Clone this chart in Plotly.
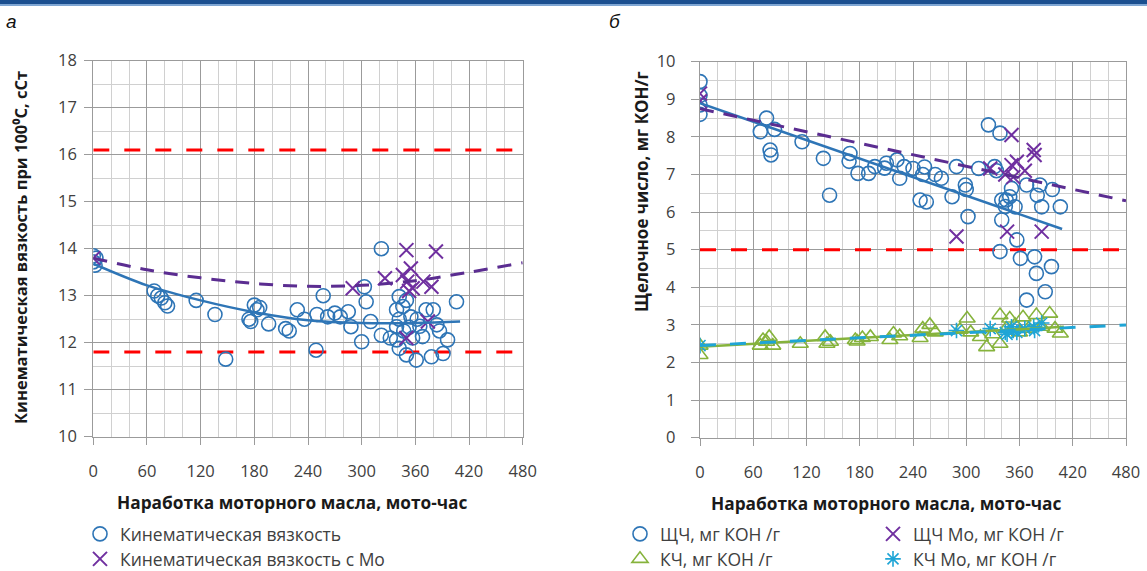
import plotly.graph_objects as go

W, H = 1147, 571

# ---------------- Data: chart (а) kinematic viscosity ----------------
kv_x = [0, 0, 2, 3, 68, 72, 76, 80, 83, 115, 136, 148, 174, 176, 180, 183, 186,
        196, 215, 219, 228, 236, 249, 250, 257, 262, 270, 276, 285, 288, 300, 303,
        305, 310, 322, 322, 332, 339, 339, 339, 342, 342, 342, 346, 347, 350, 350,
        353, 355, 357, 361, 362, 365, 368, 372, 378, 380, 384, 387, 391, 396, 406]
kv_y = [13.85, 13.72, 13.65, 13.8, 13.1, 13.0, 12.95, 12.85, 12.78, 12.9, 12.6, 11.65,
        12.5, 12.45, 12.8, 12.7, 12.75, 12.4, 12.3, 12.25, 12.7, 12.5, 11.84, 12.6, 13.0,
        12.55, 12.63, 12.55, 12.66, 12.34, 12.02, 13.19, 12.87, 12.45, 14.0, 12.16, 12.1,
        12.7, 12.34, 12.06, 12.98, 12.5, 11.88, 12.77, 12.25, 12.9, 11.74, 12.33, 12.55,
        12.1, 11.63, 12.5, 12.35, 12.13, 12.7, 11.7, 12.7, 12.38, 12.25, 11.77, 12.06, 12.87]

kvmo_x = [0, 290, 326, 346, 350, 350, 351, 353, 355, 357, 369, 374, 378, 383]
kvmo_y = [13.8, 13.16, 13.37, 13.44, 13.97, 12.1, 13.3, 13.1, 13.58, 13.16, 13.3, 12.45, 13.19, 13.94]

kv_trend_x = [0, 60, 120, 180, 240, 300, 360, 410]
kv_trend_y = [13.68, 13.22, 12.9, 12.65, 12.48, 12.42, 12.42, 12.45]
kvmo_trend_x = [0, 60, 120, 180, 240, 300, 360, 420, 480]
kvmo_trend_y = [13.8, 13.55, 13.38, 13.26, 13.2, 13.22, 13.32, 13.5, 13.7]

kv_limit_hi = 16.1
kv_limit_lo = 11.8

# ---------------- Data: chart (б) base / acid numbers ----------------
tbn_x = [0, 0, 0, 0, 68, 75, 80, 79, 84, 115, 139, 146, 168, 169, 178, 190, 197,
         208, 210, 222, 225, 230, 240, 248, 251, 253, 255, 265, 272, 284, 289, 299,
         300, 302, 314, 325, 332, 334, 338, 338, 340, 340, 344, 345, 349, 351, 355,
         357, 361, 368, 368, 377, 379, 380, 383, 385, 389, 396, 397, 406]
tbn_y = [9.47, 9.1, 8.85, 8.6, 8.14, 8.5, 7.52, 7.65, 8.2, 7.87, 7.43, 6.45, 7.35, 7.56,
         7.03, 7.03, 7.21, 7.17, 7.3, 7.39, 6.9, 7.21, 7.16, 6.32, 7.0, 7.2, 6.27, 7.0, 6.9,
         6.41, 7.21, 6.72, 6.6, 5.88, 7.16, 8.32, 7.21, 7.1, 8.1, 4.95, 6.32, 5.79, 6.15,
         6.32, 6.41, 6.63, 6.14, 5.26, 4.77, 6.72, 3.66, 4.81, 4.37, 6.45, 6.72, 6.14, 3.88,
         4.55, 6.6, 6.14]

tbnmo_x = [0, 0, 289, 327, 344, 346, 351, 351, 353, 357, 366, 376, 377, 385]
tbnmo_y = [9.15, 8.95, 5.35, 7.16, 7.0, 5.48, 8.05, 7.25, 6.93, 7.34, 7.1, 7.65, 7.52, 5.48]

tan_x = [0, 0, 68, 71, 75, 78, 82, 113, 141, 143, 147, 175, 177, 183, 192, 214, 218,
         225, 248, 251, 259, 265, 293, 301, 305, 316, 323, 330, 338, 338, 345, 349, 355,
         360, 364, 370, 379, 385, 394, 400, 406]
tan_y = [2.2, 2.45, 2.45, 2.6, 2.55, 2.68, 2.45, 2.5, 2.68, 2.5, 2.55, 2.6, 2.56, 2.65,
         2.68, 2.6, 2.77, 2.7, 2.65, 2.9, 3.0, 2.8, 2.87, 3.17, 2.8, 2.68, 2.41, 2.75, 2.5,
         3.26, 2.9, 3.17, 3.0, 2.8, 3.2, 2.9, 3.26, 2.95, 3.3, 2.9, 2.77]

tanmo_x = [0, 289, 327, 344, 346, 351, 353, 357, 366, 376, 377, 385]
tanmo_y = [2.45, 2.85, 2.9, 2.8, 2.75, 2.95, 2.85, 2.8, 2.9, 2.95, 2.85, 3.05]

tbn_trend_x = [0, 408]
tbn_trend_y = [8.9, 5.55]
tbnmo_trend_x = [0, 480]
tbnmo_trend_y = [8.75, 6.3]
tan_trend_x = [0, 410]
tan_trend_y = [2.42, 2.95]
tanmo_trend_x = [0, 480]
tanmo_trend_y = [2.45, 3.0]

tbn_limit = 5.0

x_ticks = [0, 60, 120, 180, 240, 300, 360, 420, 480]

# ---------------- Styles ----------------
BLUE = "#2E75B6"
PURPLE = "#7030A0"
DPURPLE = "#5B2D91"
RED = "#FF0000"
GREEN = "#86B33C"
CYAN = "#1FA5D6"
FONT = "Open Sans"


def px_x(p):
    return p / W


def px_y(p):
    return 1 - p / H


fig = go.Figure()

# ---- chart а ----
fig.add_trace(go.Scatter(x=[0, 480], y=[kv_limit_hi, kv_limit_hi], mode="lines",
                         line=dict(color=RED, width=3, dash="16px,15px"),
                         showlegend=False, xaxis="x", yaxis="y", hoverinfo="skip"))
fig.add_trace(go.Scatter(x=[0, 480], y=[kv_limit_lo, kv_limit_lo], mode="lines",
                         line=dict(color=RED, width=3, dash="16px,15px"),
                         showlegend=False, xaxis="x", yaxis="y", hoverinfo="skip"))
fig.add_trace(go.Scatter(x=kv_x, y=kv_y, mode="markers", name="Кинематическая вязкость",
                         marker=dict(symbol="circle-open", size=14, color=BLUE, line=dict(width=1.6)),
                         xaxis="x", yaxis="y", legend="legend"))
fig.add_trace(go.Scatter(x=kvmo_x, y=kvmo_y, mode="markers", name="Кинематическая вязкость с Мо",
                         marker=dict(symbol="x-thin-open", size=14, color=PURPLE, line=dict(width=2, color=PURPLE)),
                         xaxis="x", yaxis="y", legend="legend2"))
fig.add_trace(go.Scatter(x=kv_trend_x, y=kv_trend_y, mode="lines",
                         line=dict(color=BLUE, width=2.5, shape="spline"),
                         showlegend=False, xaxis="x", yaxis="y", hoverinfo="skip"))
fig.add_trace(go.Scatter(x=kvmo_trend_x, y=kvmo_trend_y, mode="lines",
                         line=dict(color=DPURPLE, width=3, dash="14px,10px", shape="spline"),
                         showlegend=False, xaxis="x", yaxis="y", hoverinfo="skip"))

# ---- chart б ----
fig.add_trace(go.Scatter(x=[0, 480], y=[tbn_limit, tbn_limit], mode="lines",
                         line=dict(color=RED, width=3, dash="16px,15px"),
                         showlegend=False, xaxis="x2", yaxis="y2", hoverinfo="skip"))
fig.add_trace(go.Scatter(x=tbn_x, y=tbn_y, mode="markers", name="ЩЧ, мг КОН /г",
                         marker=dict(symbol="circle-open", size=14, color=BLUE, line=dict(width=1.6)),
                         xaxis="x2", yaxis="y2", legend="legend3"))
fig.add_trace(go.Scatter(x=tbnmo_x, y=tbnmo_y, mode="markers", name="ЩЧ Мо, мг КОН /г",
                         marker=dict(symbol="x-thin-open", size=14, color=PURPLE, line=dict(width=2, color=PURPLE)),
                         xaxis="x2", yaxis="y2", legend="legend4"))
fig.add_trace(go.Scatter(x=tan_x, y=tan_y, mode="markers", name="КЧ, мг КОН /г",
                         marker=dict(symbol="triangle-up-open", size=14, color=GREEN, line=dict(width=1.6)),
                         xaxis="x2", yaxis="y2", legend="legend5"))
fig.add_trace(go.Scatter(x=tanmo_x, y=tanmo_y, mode="markers", name="КЧ Мо, мг КОН /г",
                         marker=dict(symbol="asterisk-open", size=13, color=CYAN, line=dict(width=1.6, color=CYAN)),
                         xaxis="x2", yaxis="y2", legend="legend6"))
fig.add_trace(go.Scatter(x=tbn_trend_x, y=tbn_trend_y, mode="lines",
                         line=dict(color=BLUE, width=2.5),
                         showlegend=False, xaxis="x2", yaxis="y2", hoverinfo="skip"))
fig.add_trace(go.Scatter(x=tbnmo_trend_x, y=tbnmo_trend_y, mode="lines",
                         line=dict(color=DPURPLE, width=3, dash="14px,10px"),
                         showlegend=False, xaxis="x2", yaxis="y2", hoverinfo="skip"))
fig.add_trace(go.Scatter(x=tan_trend_x, y=tan_trend_y, mode="lines",
                         line=dict(color=GREEN, width=2.5),
                         showlegend=False, xaxis="x2", yaxis="y2", hoverinfo="skip"))
fig.add_trace(go.Scatter(x=tanmo_trend_x, y=tanmo_trend_y, mode="lines",
                         line=dict(color=CYAN, width=3, dash="16px,14px"),
                         showlegend=False, xaxis="x2", yaxis="y2", hoverinfo="skip"))

MAJ = "#9b9b9b"
MIN = "#d0d0d0"


def xaxis_cfg(domain, anchor):
    return dict(domain=domain, anchor=anchor, range=[0, 480], tickmode="array", tickvals=x_ticks,
                showgrid=True, gridcolor=MAJ, gridwidth=1.3,
                minor=dict(dtick=20, tick0=0, showgrid=True, gridcolor=MIN, gridwidth=1.3),
                ticks="outside", ticklen=7, tickcolor=MAJ, tickwidth=1.3,
                showline=True, linecolor=MAJ, linewidth=1.3, mirror=True, zeroline=False,
                tickfont=dict(family=FONT, size=16.5, color="#404040"), ticklabelstandoff=12,
                automargin=False, fixedrange=True)


def yaxis_cfg(domain, anchor, rng, standoff):
    return dict(domain=domain, anchor=anchor, range=rng, dtick=1, tick0=0,
                showgrid=True, gridcolor=MAJ, gridwidth=1.3,
                minor=dict(dtick=0.5, tick0=0, showgrid=True, gridcolor=MIN, gridwidth=1.3),
                ticks="outside", ticklen=8, tickcolor=MAJ, tickwidth=1.3,
                showline=True, linecolor=MAJ, linewidth=1.3, mirror=True, zeroline=False,
                tickfont=dict(family=FONT, size=16.5, color="#404040"), ticklabelstandoff=standoff,
                automargin=False, fixedrange=True)


leg_font = dict(family=FONT, size=17.5, color="#404040")


def leg(xp, yp):
    return dict(x=px_x(xp), y=px_y(yp), xanchor="left", yanchor="middle", orientation="h",
                font=leg_font, bgcolor="rgba(0,0,0,0)")


fig.update_layout(
    width=W, height=H, template="none",
    margin=dict(l=0, r=0, t=0, b=0, autoexpand=False),
    paper_bgcolor="white", plot_bgcolor="white",
    font=dict(family=FONT, color="#202020"),
    xaxis=xaxis_cfg([px_x(93.3), px_x(522.7)], "y"),
    yaxis=yaxis_cfg([px_y(436.7), px_y(60.7)], "x", [10, 18], 4),
    xaxis2=xaxis_cfg([px_x(700), px_x(1126)], "y2"),
    yaxis2=yaxis_cfg([px_y(437.7), px_y(61.7)], "x2", [0, 10], 12),
    legend=leg(80, 534),
    legend2=leg(80, 559),
    legend3=leg(620, 534),
    legend4=leg(873, 534),
    legend5=leg(620, 559),
    legend6=leg(873, 559),
    shapes=[
        dict(type="rect", xref="paper", yref="paper", x0=0, x1=1, y0=px_y(4), y1=1,
             fillcolor="#1B4F8F", line=dict(width=0)),
        dict(type="rect", xref="paper", yref="paper", x0=0, x1=1, y0=px_y(6), y1=px_y(4),
             fillcolor="#7FA6D3", line=dict(width=0)),
    ],
    annotations=[
        dict(text="<i>а</i>", x=px_x(4), y=px_y(22), xref="paper", yref="paper",
             xanchor="left", yanchor="middle", showarrow=False,
             font=dict(family="Liberation Sans", size=19, color="#111111")),
        dict(text="<i>б</i>", x=px_x(607), y=px_y(22), xref="paper", yref="paper",
             xanchor="left", yanchor="middle", showarrow=False,
             font=dict(family="Liberation Sans", size=19, color="#111111")),
        dict(text="<b>Кинематическая вязкость при 100⁰С, сСт</b>", x=px_x(21), y=px_y(248),
             xref="paper", yref="paper", xanchor="center", yanchor="middle", textangle=-90,
             showarrow=False, font=dict(family=FONT, size=16.5, color="#1a1a1a")),
        dict(text="<b>Щелочное число, мг КОН/г</b>", x=px_x(641), y=px_y(192),
             xref="paper", yref="paper", xanchor="center", yanchor="middle", textangle=-90,
             showarrow=False, font=dict(family=FONT, size=17, color="#1a1a1a")),
        dict(text="<b>Наработка моторного масла, мото-час</b>", x=px_x(292), y=px_y(502),
             xref="paper", yref="paper", xanchor="center", yanchor="middle",
             showarrow=False, font=dict(family=FONT, size=17.3, color="#1a1a1a")),
        dict(text="<b>Наработка моторного масла, мото-час</b>", x=px_x(886), y=px_y(503),
             xref="paper", yref="paper", xanchor="center", yanchor="middle",
             showarrow=False, font=dict(family=FONT, size=17.3, color="#1a1a1a")),
    ],
)

fig.write_html("out.html")
